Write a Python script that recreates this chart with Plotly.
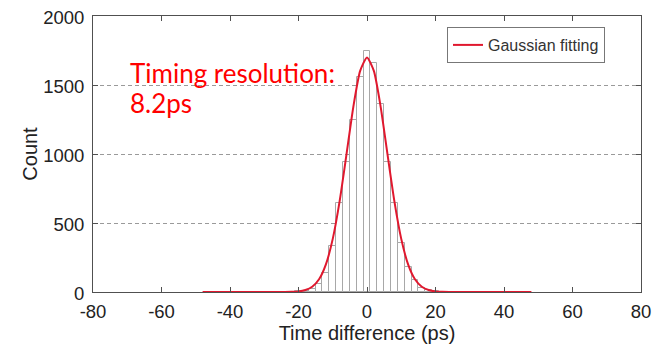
import plotly.graph_objects as go

# Histogram data (bin centers in ps, counts)
bin_centers = [-20, -18, -16, -14, -12, -10, -8, -6, -4, -2, 0, 2, 4, 6, 8, 10, 12, 14, 16, 18, 20]
bin_counts = [4, 10, 22, 55, 135, 335, 645, 940, 1250, 1560, 1750, 1660, 1360, 945, 645, 355, 180, 85, 32, 12, 5]

# Gaussian fitting curve values
fit_x = [-48, -30, -24, -22, -20, -18, -16, -14, -12, -10, -8, -6, -4, -2, 0,
         2, 4, 6, 8, 10, 12, 14, 16, 18, 20, 22, 24, 30, 48]
fit_y = [0, 0, 0.3, 1.3, 4, 14, 38, 92, 200, 385, 657, 995, 1340, 1602, 1700,
         1602, 1340, 995, 657, 385, 200, 92, 38, 14, 4, 1.3, 0.3, 0, 0]

x_ticks = [-80, -60, -40, -20, 0, 20, 40, 60, 80]
x_tick_text = ["-80", "-60", "-40", "-20", "0", "20", "40", "60", "80"]
y_ticks = [0, 500, 1000, 1500, 2000]
y_tick_text = ["0", "500", "1000", "1500", "2000"]

# The page body adds an 8px offset; figure is sized to fill the rest of the window.
OFF = 8
FW, FH = 668 - OFF, 348 - OFF
L, R, T, B = 93 - OFF, 27, 16 - OFF, 56
PW, PH = FW - L - R, FH - T - B


def px(x):
    return (x - OFF - L) / PW


def py(y):
    return 1 - (y - OFF - T) / PH


fig = go.Figure()
fig.add_trace(go.Bar(
    x=bin_centers, y=bin_counts, width=2,
    marker=dict(color="white", line=dict(color="#a8a8a8", width=1)),
    showlegend=False,
))
fig.add_trace(go.Scatter(
    x=fit_x, y=fit_y, mode="lines", name="Gaussian fitting",
    line=dict(color="#e0182e", width=2, shape="spline", smoothing=0.6),
))

tick_font = dict(family="Liberation Sans", size=18.5, color="#222222")
title_font = dict(family="Liberation Sans", size=20, color="#222222")
axis_common = dict(
    showline=True, linecolor="#505050", linewidth=1, mirror="allticks",
    ticks="inside", ticklen=5, tickcolor="#505050",
    tickfont=tick_font, zeroline=False, automargin=False,
    ticklabeloverflow="allow",
)
fig.update_xaxes(
    range=[-80, 80], tickvals=x_ticks, ticktext=x_tick_text, showgrid=False,
    ticklabelstandoff=3,
    title=dict(text="Time difference (ps)", font=title_font, standoff=2),
    **axis_common,
)
fig.update_yaxes(
    range=[0, 2000], tickvals=y_ticks, ticktext=y_tick_text, showgrid=True,
    gridcolor="#9a9a9a", griddash="4px,3px", gridwidth=1,
    ticklabelstandoff=4, ticklabelshift=2,
    title=dict(text="Count", font=title_font, standoff=0),
    **axis_common,
)

fig.add_annotation(
    xref="paper", yref="paper", x=px(128), y=py(73),
    xanchor="left", yanchor="middle", showarrow=False,
    text="Timing resolution:",
    font=dict(family="Lato", size=26, color="#ff0000"),
)
fig.add_annotation(
    xref="paper", yref="paper", x=px(128), y=py(103),
    xanchor="left", yanchor="middle", showarrow=False,
    text="8.2ps",
    font=dict(family="Lato", size=26, color="#ff0000"),
)

fig.update_layout(
    width=FW, height=FH,
    margin=dict(l=L, r=R, t=T, b=B),
    paper_bgcolor="white", plot_bgcolor="white",
    bargap=0,
    legend=dict(
        x=px(447), y=py(27), xanchor="left", yanchor="top",
        bordercolor="#777777", borderwidth=1, bgcolor="white",
        font=dict(family="Liberation Sans", size=16, color="#333333"),
        tracegroupgap=0,
    ),
)

fig.write_html("out.html")
